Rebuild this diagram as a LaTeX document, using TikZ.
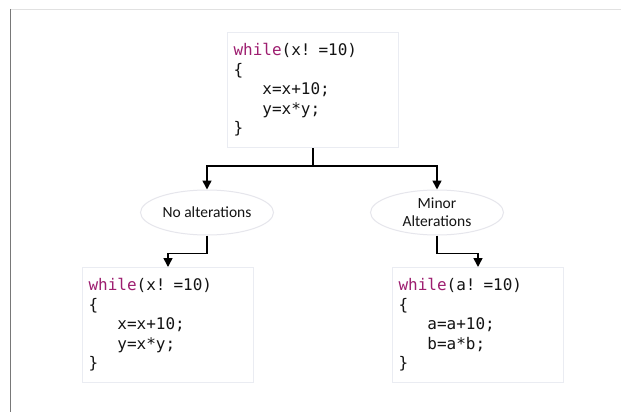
\documentclass[tikz,border=0pt]{standalone}
\usepackage{fontspec}
\usetikzlibrary{arrows.meta,shapes.geometric}
\newfontfamily\codefont{DejaVu Sans Mono}
\newfontfamily\labelfont{Carlito}
\definecolor{kw}{RGB}{158,30,112}
\definecolor{codetext}{RGB}{20,20,20}
\definecolor{boxline}{RGB}{234,236,242}
\definecolor{ellline}{RGB}{230,230,236}
\newcommand{\kwd}[1]{\textcolor{kw}{#1}}
\newcommand{\ind}{\hphantom{xxx}}
\begin{document}
\begin{tikzpicture}[x=1pt,y=-1pt,
  codebox/.style={draw=boxline,line width=1pt,fill=white,rectangle,
    anchor=north west,minimum width=171pt,minimum height=115pt,
    text width=159pt,inner xsep=6pt,inner ysep=0pt,align=left,
    text=codetext,font=\codefont\fontsize{16}{19.5}\selectfont},
  choice/.style={draw=ellline,line width=1pt,fill=white,ellipse,
    minimum width=133pt,minimum height=45pt,inner sep=0pt,align=center,
    text=codetext,font=\labelfont\fontsize{15.5}{18}\selectfont},
  arr/.style={draw=black,line width=1.6pt,
    -{Triangle[length=9pt,width=9pt]}}]
\useasboundingbox (0,0) rectangle (621,412);
\fill[white] (0,0) rectangle (621,412);
% frame edges
\draw[draw={rgb,255:red,225;green,225;blue,225},line width=1pt] (10,9.5) -- (621,9.5);
\draw[draw={rgb,255:red,120;green,120;blue,120},line width=1.2pt] (10.5,9) -- (10.5,412);

% original loop
\node[codebox] (orig) at (227,32) {\kwd{while}(x! =10)\\\{\\\ind x=x+10;\\\ind y=x*y;\\\}};

% the two kinds of change
\node[choice] (noalt) at (207,212.5) {No alterations};
\node[choice] (minor) at (437,212.5) {Minor\\Alterations};

% resulting loops
\node[codebox] (same) at (82,267) {\kwd{while}(x! =10)\\\{\\\ind x=x+10;\\\ind y=x*y;\\\}};
\node[codebox] (renamed) at (392,267) {\kwd{while}(a! =10)\\\{\\\ind a=a+10;\\\ind b=a*b;\\\}};

% connectors
\draw[line width=1.6pt] (orig.south) -- ++(0,18) coordinate (split);
\draw[arr] (split) -| (noalt.north);
\draw[arr] (split) -| (minor.north);
\draw[arr] (noalt.south) -- ++(0,18) -| (same.north);
\draw[arr] (minor.south) -- ++(0,18) -| (renamed.north);
\end{tikzpicture}
\end{document}
